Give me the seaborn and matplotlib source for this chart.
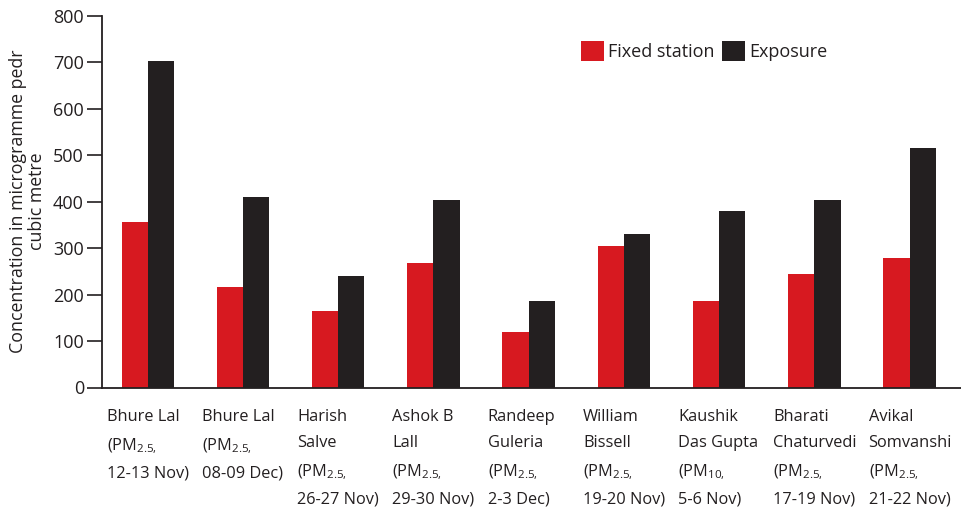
import matplotlib
matplotlib.use("Agg")
import matplotlib.pyplot as plt
import matplotlib.transforms as mtrans
import seaborn as sns
import pandas as pd
from matplotlib.patches import Patch

categories = [
    "Bhure Lal\n(PM$_{\\mathregular{2.5,}}$\n12-13 Nov)",
    "Bhure Lal\n(PM$_{\\mathregular{2.5,}}$\n08-09 Dec)",
    "Harish\nSalve\n(PM$_{\\mathregular{2.5,}}$\n26-27 Nov)",
    "Ashok B\nLall\n(PM$_{\\mathregular{2.5,}}$\n29-30 Nov)",
    "Randeep\nGuleria\n(PM$_{\\mathregular{2.5,}}$\n2-3 Dec)",
    "William\nBissell\n(PM$_{\\mathregular{2.5,}}$\n19-20 Nov)",
    "Kaushik\nDas Gupta\n(PM$_{\\mathregular{10,}}$\n5-6 Nov)",
    "Bharati\nChaturvedi\n(PM$_{\\mathregular{2.5,}}$\n17-19 Nov)",
    "Avikal\nSomvanshi\n(PM$_{\\mathregular{2.5,}}$\n21-22 Nov)",
]
fixed_station = [356, 217, 165, 267, 119, 304, 186, 244, 278]
exposure = [702, 410, 240, 403, 186, 330, 380, 403, 515]
series = ["Fixed station", "Exposure"]
yticks = [0, 100, 200, 300, 400, 500, 600, 700, 800]

RED = "#d71920"
BLACK = "#231f20"
TEXT = "#231f20"

df = pd.DataFrame({
    "cat": categories * 2,
    "val": fixed_station + exposure,
    "series": [series[0]] * len(categories) + [series[1]] * len(categories),
})

sns.set_style("white")
plt.rcParams["font.family"] = ["Open Sans", "DejaVu Sans"]
plt.rcParams["mathtext.fontset"] = "custom"
plt.rcParams["mathtext.rm"] = "Open Sans"

fig = plt.figure(figsize=(9.62, 5.09), dpi=100)
ax = fig.add_axes([102 / 962, 1 - 387.5 / 509, 1 - 102 / 962, (387.5 - 15.5) / 509])

sns.barplot(data=df, x="cat", y="val", hue="series", order=categories,
            hue_order=series, palette=[RED, BLACK], width=0.55, gap=0,
            saturation=1, linewidth=0, ax=ax, legend=False)

ax.set_xlim(-0.48, 8.55)
ax.set_ylim(0, 800)
ax.set_yticks(yticks)
ax.set_yticklabels([str(v) for v in yticks], fontsize=13, color=TEXT)
ax.tick_params(axis="y", direction="out", length=11, width=1.2, color=TEXT, pad=2, left=True)
ax.tick_params(axis="x", length=0, pad=15.5)
ax.set_xticks(range(len(categories)))
ax.set_xticklabels(categories, fontsize=11.8, color=TEXT, ha="left",
                   va="top", linespacing=1.84)
offset = mtrans.ScaledTranslation(-41 / 100, 0, fig.dpi_scale_trans)
for lab in ax.get_xticklabels():
    lab.set_transform(lab.get_transform() + offset)

ax.set_xlabel("")
ax.set_ylabel("Concentration in microgramme pedr\ncubic metre", fontsize=12.8,
              color=TEXT, linespacing=1.05, labelpad=5)

for side in ["top", "right"]:
    ax.spines[side].set_visible(False)
for side in ["left", "bottom"]:
    ax.spines[side].set_color(TEXT)
    ax.spines[side].set_linewidth(1.3)

handles = [Patch(facecolor=RED, edgecolor="none", label=series[0]),
           Patch(facecolor=BLACK, edgecolor="none", label=series[1])]
fig.legend(handles=handles, loc="center left", bbox_to_anchor=(581 / 962, 1 - 51 / 509),
           ncol=2, frameon=False, fontsize=13, handlelength=1.3, handleheight=1.3,
           handletextpad=0.2, columnspacing=0.4, borderpad=0, borderaxespad=0,
           labelcolor=TEXT)

fig.savefig("out.png", dpi=100)
